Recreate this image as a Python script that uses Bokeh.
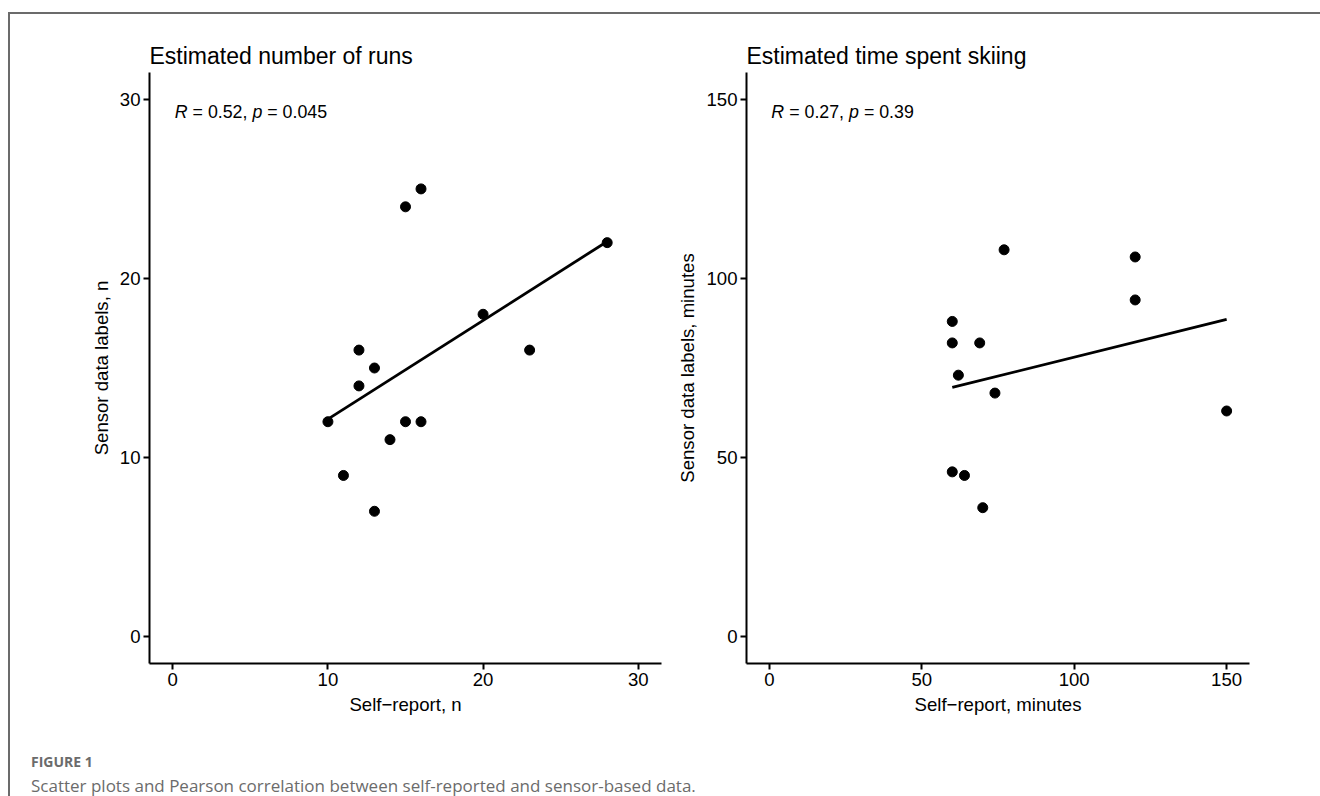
import numpy as np
from bokeh.plotting import figure
from bokeh.layouts import column, row
from bokeh.models import Div, Range1d, FixedTicker
from bokeh.core.properties import value
from bokeh.embed import file_html
from bokeh.resources import INLINE

# ---- data ----
runs_self = [10, 11, 12, 12, 13, 13, 14, 15, 15, 16, 16, 20, 23, 28]
runs_sensor = [12, 9, 16, 14, 15, 7, 11, 24, 12, 25, 12, 18, 16, 22]
time_self = [77, 120, 120, 60, 60, 69, 62, 74, 150, 60, 64, 70]
time_sensor = [108, 106, 94, 88, 82, 82, 73, 68, 63, 46, 45, 36]

runs_ticks = [0, 10, 20, 30]
time_ticks = [0, 50, 100, 150]
titles = ["Estimated number of runs", "Estimated time spent skiing"]
xlabels = ["Self\u2212report, n", "Self\u2212report, minutes"]
ylabels = ["Sensor data labels, n", "Sensor data labels, minutes"]
r_values = ["0.52", "0.27"]
p_values = ["0.045", "0.39"]
caption_head = "FIGURE 1"
caption_text = "Scatter plots and Pearson correlation between self-reported and sensor-based data."

FONT = "Liberation Sans"
TICK_FS = 18.6
ANN_FS = 17.8
# Liberation Sans advance widths (per 1000 em)
ADV = {"R": 722, " ": 278, "=": 584, ".": 278, ",": 278, "p": 556}


def text_width(s, fs):
    return sum(ADV.get(ch, 556) for ch in s) * fs / 1000.0


def make_panel(xs, ys, ticks, title, xlabel, ylabel, r, pval, width, bl, br):
    span = ticks[-1] - ticks[0]
    lo, hi = ticks[0] - 0.05 * span, ticks[-1] + 0.05 * span
    p = figure(width=width, height=709, x_range=Range1d(lo, hi), y_range=Range1d(lo, hi),
               output_backend="svg", toolbar_location=None,
               min_border_left=bl, min_border_right=br, min_border_top=58, min_border_bottom=60)
    p.outline_line_color = None
    p.grid.visible = False
    p.background_fill_color = "white"
    p.border_fill_color = "white"

    p.title.text = title
    p.title.text_font = FONT
    p.title.text_font_size = "23px"
    p.title.text_font_style = "normal"
    p.title.text_color = "black"
    p.title.align = "left"
    p.title.standoff = 8

    for ax, lab in ((p.xaxis[0], xlabel), (p.yaxis[0], ylabel)):
        ax.ticker = FixedTicker(ticks=ticks)
        ax.axis_label = lab
        ax.axis_line_width = 2
        ax.axis_line_color = "black"
        ax.major_tick_line_color = "black"
        ax.major_tick_line_width = 2
        ax.major_tick_out = 6
        ax.major_tick_in = 0
        ax.minor_tick_line_color = None
        ax.major_label_text_font = FONT
        ax.major_label_text_font_size = f"{TICK_FS}px"
        ax.major_label_text_color = "black"
        ax.major_label_standoff = 3
        ax.axis_label_text_font = FONT
        ax.axis_label_text_font_size = f"{TICK_FS}px"
        ax.axis_label_text_font_style = "normal"
        ax.axis_label_text_color = "black"
        ax.axis_label_standoff = 5

    p.scatter(xs, ys, size=10, color="black")
    coef = np.polyfit(xs, ys, 1)
    fx = [min(xs), max(xs)]
    fy = list(np.polyval(coef, fx))
    p.line(fx, fy, line_width=2.8, color="black")

    # "R = r, p = pval" with italic R and p; SVG drops edge spaces, so the
    # spaces are turned into offsets.
    pieces = [("R", "italic"), (" = " + r + ", ", "normal"), ("p", "italic"), (" = " + pval, "normal")]
    off = 0.0
    for s, style in pieces:
        lead = len(s) - len(s.lstrip(" "))
        core = s.strip(" ")
        p.text(x=[ticks[0]], y=[ticks[-1]], text=[core],
               x_offset=2 + off + text_width(" " * lead, ANN_FS), y_offset=13,
               text_font=value(FONT), text_font_size=f"{ANN_FS}px", text_font_style=style,
               text_color="black", text_baseline="middle", text_align="left")
        off += text_width(s, ANN_FS)
    return p


p1 = make_panel(runs_self, runs_sensor, runs_ticks, titles[0], xlabels[0], ylabels[0],
                r_values[0], p_values[0], 660, 139, 9)
p2 = make_panel(time_self, time_sensor, time_ticks, titles[1], xlabels[1], ylabels[1],
                r_values[1], p_values[1], 650, 76, 71)

cap = Div(text=(
    f"<div style=\"font-family:'Open Sans';color:#6b6b6b;padding-left:16px;\">"
    f"<div style='font-weight:700;font-size:14px;line-height:20px;margin-top:24px;'>{caption_head}</div>"
    f"<div style='font-size:17px;line-height:22px;margin-top:3px;'>{caption_text}</div></div>"),
    width=1300, height=70)

layout = column(row(p1, p2), cap, margin=(12, 0, 0, 8),
                styles={"border-top": "2px solid #6b6b6b", "border-left": "2px solid #6b6b6b"})

open("out.html", "w").write(file_html(layout, INLINE))
